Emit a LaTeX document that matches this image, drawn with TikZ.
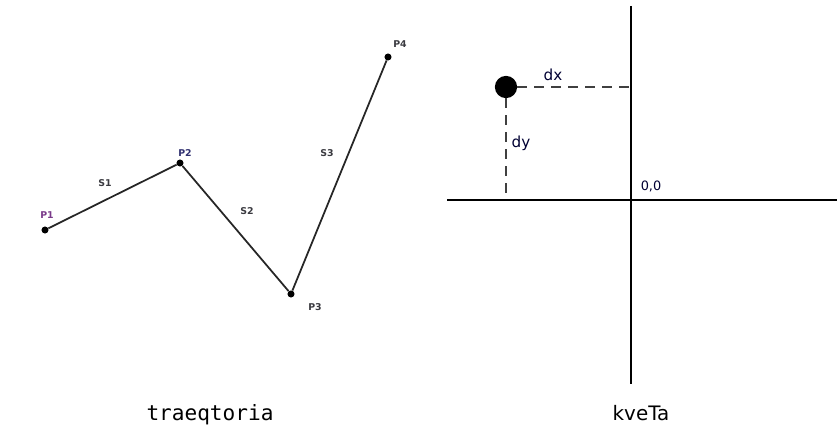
\documentclass[tikz,border=0pt]{standalone}
\usepackage{fontspec}
\setmainfont{DejaVu Sans}
\newfontfamily\capmono{DejaVu Sans Mono}
\usepackage{tikz}
\usepackage{xcolor}
\definecolor{dashgray}{HTML}{404040}
\definecolor{lblpurple}{HTML}{7A3A8A}
\definecolor{lblnavy}{HTML}{303070}
\definecolor{lbldark}{HTML}{3A3A40}

\begin{document}
\begin{tikzpicture}[x=0.03cm,y=-0.03cm,
    vertex/.style={circle,fill=black,inner sep=0pt,minimum size=6pt},
    tinylbl/.style={font=\fontsize{8}{9}\selectfont\bfseries,inner sep=0pt},
    axlbl/.style={font=\fontsize{13}{15}\selectfont,text=black!80!blue,inner sep=0pt}]
    \useasboundingbox (0,0) rectangle (837,428);

    % trajectory
    \node[vertex] (p1) at (45,230) {};
    \node[vertex] (p2) at (180,163) {};
    \node[vertex] (p3) at (291,294) {};
    \node[vertex] (p4) at (388,57) {};
    \draw[line width=1.5pt,black!85] (p1) -- (p2) -- (p3) -- (p4);
    \node[tinylbl,text=lblpurple] (l1) at (47,215) {P1};
    \node[tinylbl,text=lblnavy] (l2) at (185,153) {P2};
    \node[tinylbl,text=lbldark] (l3) at (315,307) {P3};
    \node[tinylbl,text=lbldark] (l4) at (400,44) {P4};
    \node[tinylbl,text=lbldark] (s1) at (105,183) {S1};
    \node[tinylbl,text=lbldark] (s2) at (247,211) {S2};
    \node[tinylbl,text=lbldark] (s3) at (327,153) {S3};
    \node[anchor=base,font=\capmono\fontsize{18}{20}\selectfont] (cap1) at (210,420) {traeqtoria};

    % point and axes
    \coordinate (xl) at (447,200);
    \coordinate (xr) at (837,200);
    \coordinate (yt) at (631,6);
    \coordinate (yb) at (631,384);
    \draw[line width=1.2pt] (xl) -- (xr);
    \draw[line width=1.2pt] (yt) -- (yb);
    \node[circle,fill=black,inner sep=0pt,minimum size=19pt] (pt) at (506,87) {};
    \draw[dashgray,line width=1.1pt,dash pattern=on 8.5pt off 6pt] (pt.east) -- (pt -| yt);
    \draw[dashgray,line width=1.1pt,dash pattern=on 8.5pt off 6pt] (pt.south) -- (pt |- xl);
    \node[axlbl] (dx) at (553,75) {dx};
    \node[axlbl] (dy) at (521,143) {dy};
    \node[axlbl,font=\fontsize{11}{13}\selectfont] (orig) at (651,186) {0,0};
    \node[anchor=base,font=\fontsize{17}{20}\selectfont] (cap2) at (641,420) {kveTa};
\end{tikzpicture}
\end{document}
